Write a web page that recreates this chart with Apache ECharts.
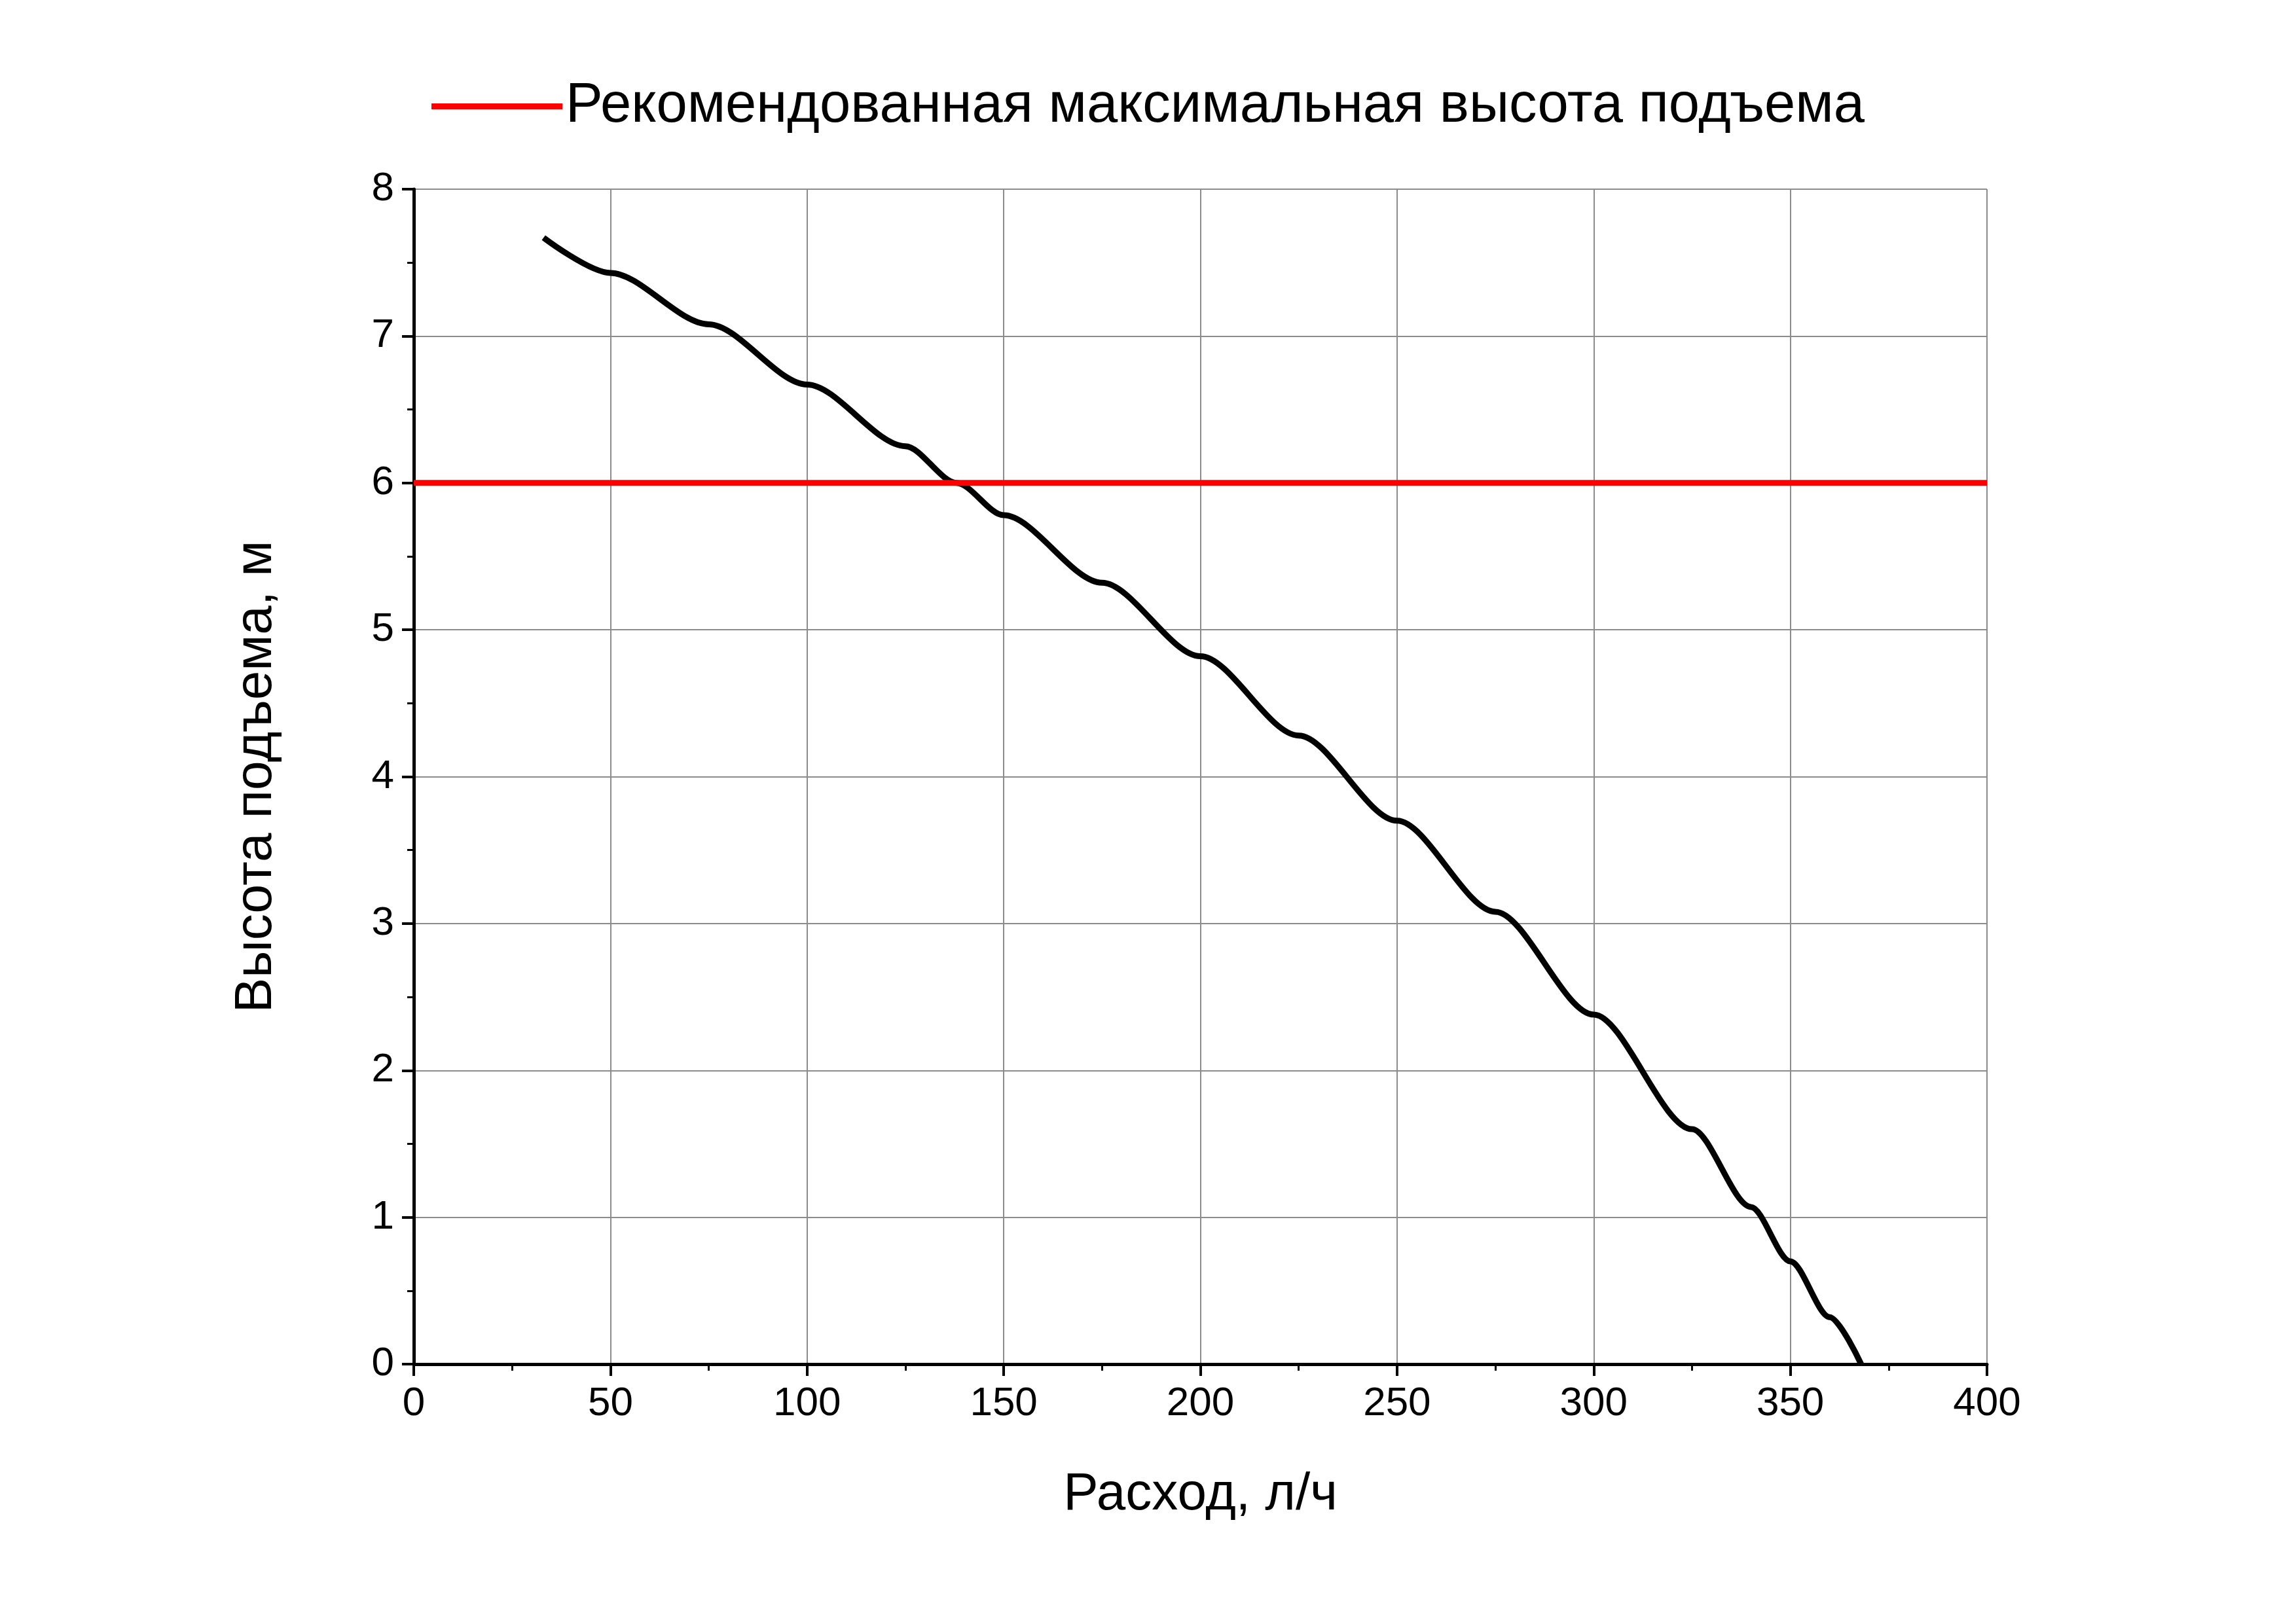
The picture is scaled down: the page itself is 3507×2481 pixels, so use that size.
<!DOCTYPE html>
<html><head><meta charset="utf-8">
<script src="https://cdn.jsdelivr.net/npm/echarts@6/dist/echarts.min.js"></script>
<style>html,body{margin:0;background:#fff}#c{width:3507px;height:2481px}</style>
</head><body><div id="c"></div>
<script>
const flow = [33,50,75,100,125,138,150,175,200,225,250,275,300,325,340,350,360,368];
const head = [7.67,7.43,7.08,6.67,6.25,6.0,5.78,5.32,4.82,4.28,3.7,3.08,2.38,1.6,1.07,0.7,0.32,0];
const recFlow = [0,400];
const recHead = [6,6];
const recName = 'Рекомендованная максимальная высота подъема';
const xTitle = 'Расход, л/ч';
const yTitle = 'Высота подъема, м';
const F = 'Arial, Liberation Sans, sans-serif';
const chart = echarts.init(document.getElementById('c'));
const axisCommon = {
  axisLine:{show:true,lineStyle:{color:'#000',width:5}},
  axisTick:{show:true,inside:false,length:18,lineStyle:{color:'#000',width:4}},
  minorTick:{show:true,splitNumber:2,length:10,lineStyle:{color:'#000',width:3}},
  splitLine:{show:true,lineStyle:{color:'#8c8c8c',width:2}},
  axisLabel:{color:'#000',fontSize:62,fontFamily:F,margin:30},
  nameTextStyle:{color:'#000',fontSize:80,fontFamily:F}
};
chart.setOption({
  animation:false,
  legend:{top:115,left:'center',data:[recName],itemWidth:200,itemHeight:9,
    textStyle:{fontSize:85,fontFamily:F,color:'#000'},icon:'rect'},
  grid:{left:632,right:472,top:289,bottom:397},
  xAxis:Object.assign({type:'value',min:0,max:400,interval:50,name:xTitle,nameLocation:'middle',nameGap:160},axisCommon),
  yAxis:Object.assign({type:'value',min:0,max:8,interval:1,name:yTitle,nameLocation:'middle',nameGap:200},axisCommon),
  series:[
    {name:'curve',type:'line',data:flow.map((v,i)=>[v,head[i]]),smooth:0.3,smoothMonotone:'x',showSymbol:false,
      lineStyle:{color:'#000',width:9}},
    {name:recName,type:'line',data:recFlow.map((v,i)=>[v,recHead[i]]),showSymbol:false,
      lineStyle:{color:'#ff0000',width:9},itemStyle:{color:'#ff0000'}}
  ]
});
</script></body></html>
